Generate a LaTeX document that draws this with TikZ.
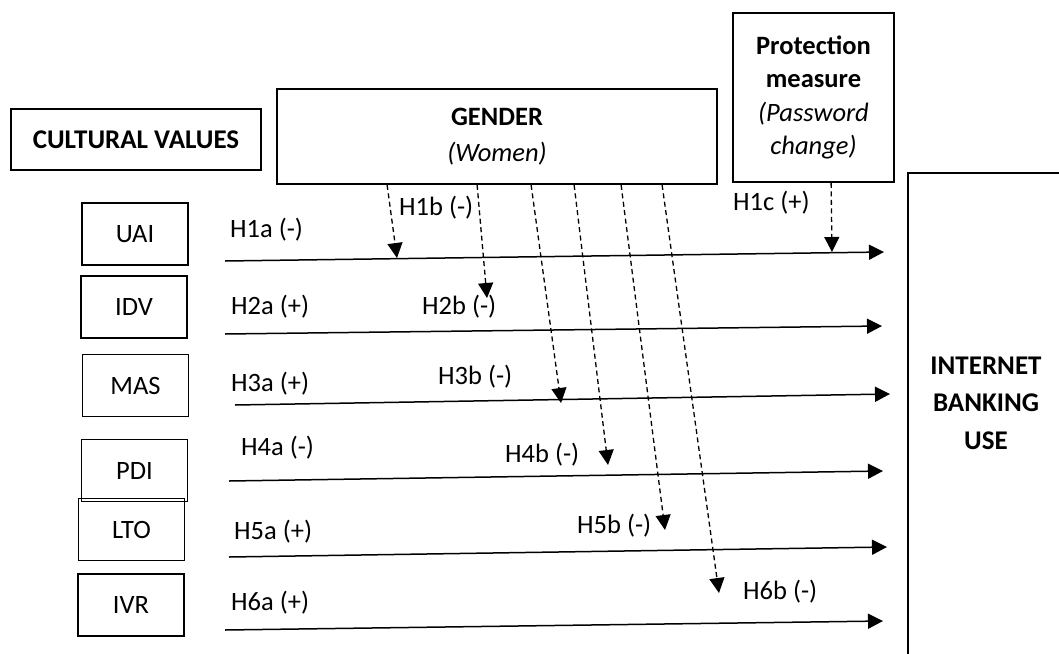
\documentclass[tikz,border=0pt]{standalone}
\usepackage{fontspec}
\setmainfont{Carlito}
\usetikzlibrary{arrows.meta}
\begin{document}
\begin{tikzpicture}[x=1pt,y=-1pt,font=\fontsize{26.5}{32}\selectfont]
        \tikzstyle{factor}=[draw,line width=1.8pt,inner sep=0pt,minimum width=106pt,minimum height=62pt]
        \tikzstyle{head}=[draw,line width=1.8pt,inner sep=0pt,align=center]
        \tikzstyle{hyp}=[draw,line width=1.5pt,-{Triangle[length=15pt,width=15pt]}]
        \tikzstyle{moder}=[draw,line width=1.3pt,dash pattern=on 5pt off 3.5pt,-{Triangle[length=15pt,width=15pt]}]
        \tikzstyle{hlabel}=[anchor=west,inner sep=0pt]
        \useasboundingbox (0,0) rectangle (1059,653);
        \clip (0,0) rectangle (1059,653);
       \begin{scope}
         % boxes
         \node [head,minimum width=250pt,minimum height=61pt,font=\fontsize{27}{32}\selectfont\bfseries] (cv) at (136,139.5) {CULTURAL VALUES};
         \node [head,minimum width=440pt,minimum height=95pt,font=\fontsize{26.5}{36}\selectfont] (gender) at (497,136.5) {\textbf{GENDER}\\\textit{(Women)}};
         \node [head,minimum width=161pt,minimum height=169pt,font=\fontsize{26.5}{33.5}\selectfont] (prot) at (813.5,97.5) {\textbf{Protection}\\\textbf{measure}\\\textit{(Password}\\\textit{change)}};
         \node [head,anchor=north west,minimum width=158pt,minimum height=520pt] (ibu) at (907,172) {};
         \node [align=center,inner sep=0pt,font=\fontsize{27}{37.5}\selectfont\bfseries] (ibutext) at (986,403) {INTERNET\\BANKING\\USE};
         \node [factor] (uai) at (135,234) {UAI};
         \node [factor] (idv) at (134,307) {IDV};
         \node [factor] (mas) at (135.5,385.5) {MAS};
         \node [factor] (pdi) at (134.5,470.5) {PDI};
         \node [factor] (lto) at (131.5,529.5) {LTO};
         \node [factor] (ivr) at (131,605) {IVR};
         % direct paths
         \coordinate (r1s) at (225,261); \coordinate (r1e) at (884,252);
         \coordinate (r2s) at (225,334); \coordinate (r2e) at (882,326);
         \coordinate (r3s) at (235,405); \coordinate (r3e) at (890,394);
         \coordinate (r4s) at (229,481); \coordinate (r4e) at (883,471);
         \coordinate (r5s) at (229,557); \coordinate (r5e) at (887,547);
         \coordinate (r6s) at (225,630); \coordinate (r6e) at (883,621);
         \draw[hyp] (r1s) -- (r1e);
         \draw[hyp] (r2s) -- (r2e);
         \draw[hyp] (r3s) -- (r3e);
         \draw[hyp] (r4s) -- (r4e);
         \draw[hyp] (r5s) -- (r5e);
         \draw[hyp] (r6s) -- (r6e);
         % moderating paths
         \coordinate (t1) at (397,258);
         \coordinate (t2) at (487,298);
         \coordinate (t3) at (561,403);
         \coordinate (t4) at (608,465);
         \coordinate (t5) at (665,530);
         \coordinate (t6) at (719,593);
         \coordinate (tc) at (832,252);
         \draw[moder] ([xshift=111pt]gender.south west) -- (t1);
         \draw[moder] ([xshift=201pt]gender.south west) -- (t2);
         \draw[moder] ([xshift=255pt]gender.south west) -- (t3);
         \draw[moder] ([xshift=298pt]gender.south west) -- (t4);
         \draw[moder] ([xshift=345pt]gender.south west) -- (t5);
         \draw[moder] ([xshift=386pt]gender.south west) -- (t6);
         \draw[moder] ([xshift=99pt]prot.south west) -- (tc);
         % hypotheses
         \node [hlabel] (h1a) at (230,230) {H1a (-)};
         \node [hlabel] (h1b) at (399,208) {H1b (-)};
         \node [hlabel] (h1c) at (733,203) {H1c (+)};
         \node [hlabel] (h2a) at (231,307) {H2a (+)};
         \node [hlabel] (h2b) at (422,307) {H2b (-)};
         \node [hlabel] (h3a) at (231,384) {H3a (+)};
         \node [hlabel] (h3b) at (438,377) {H3b (-)};
         \node [hlabel] (h4a) at (241,448) {H4a (-)};
         \node [hlabel] (h4b) at (505,455) {H4b (-)};
         \node [hlabel] (h5a) at (234,532) {H5a (+)};
         \node [hlabel] (h5b) at (577,526) {H5b (-)};
         \node [hlabel] (h6a) at (231,603) {H6a (+)};
         \node [hlabel] (h6b) at (743,592) {H6b (-)};
        \end{scope}
      \end{tikzpicture}
\end{document}
